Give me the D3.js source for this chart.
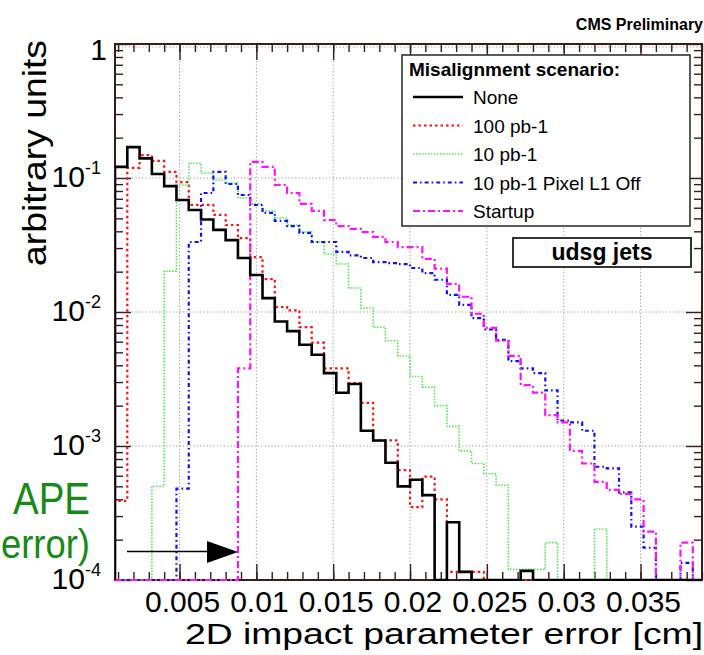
<!DOCTYPE html>
<html>
<head>
<meta charset="utf-8">
<script src="https://cdn.jsdelivr.net/npm/d3@7"></script>
<style>
  html, body { margin: 0; padding: 0; background: #fff; }
  svg { display: block; }
  text { font-family: "Liberation Sans", Arial, Helvetica, sans-serif; }
</style>
</head>
<body>
<script>
// Histogram binning of the 2D impact parameter error (cm)
const binWidth = 0.0008;
const firstBinLow = 0.0008;

// Normalised bin contents per misalignment scenario (0 = empty bin)
const noneVals = [0.121, 0.17, 0.14, 0.107, 0.087, 0.0686, 0.0577, 0.049, 0.041, 0.0344,
  0.0253, 0.0189, 0.0127, 0.0085, 0.0072, 0.0057, 0.0048, 0.0035, 0.0025, 0.0029,
  0.0013, 0.0011, 0.00075, 0.0005, 0.00056, 0.00043, 0, 0.00027, 0.000115, 0,
  0, 0, 0, 0.000117, 0, 0, 0, 0, 0, 0, 0, 0, 0, 0, 0, 0, 0, 0];
const pb100Vals = [0.00039, 0.119, 0.148, 0.134, 0.111, 0.093, 0.063, 0.063, 0.053, 0.0446,
  0.0356, 0.0257, 0.0176, 0.0109, 0.0103, 0.0077, 0.0059, 0.0038, 0.0038, 0.00295,
  0.0021, 0.0011, 0.0011, 0.00066, 0.00035, 0.00059, 0.0004, 0.000115, 0.000115, 0.000115,
  0, 0, 0, 0, 0, 0, 0, 0, 0, 0, 0, 0, 0, 0, 0, 0, 0, 0];
const pb10Vals = [0, 0, 0, 0.0005, 0.0202, 0.0887, 0.129, 0.109, 0.0966, 0.0918,
  0.071, 0.0641, 0.0569, 0.0503, 0.0445, 0.0395, 0.0333, 0.0271, 0.0228, 0.0151,
  0.0107, 0.0077, 0.0061, 0.0047, 0.0033, 0.00275, 0.002, 0.0014, 0.00092, 0.00074,
  0.00062, 0.00051, 0.00012, 0.00012, 0.00012, 0.00019, 0, 0, 0, 0.00024,
  0, 0, 0, 0, 0, 0, 0, 0];
const pb10PixVals = [0, 0, 0, 0, 0, 0.00048, 0.0333, 0.0773, 0.111, 0.0902,
  0.0747, 0.0629, 0.0549, 0.0478, 0.0438, 0.0389, 0.0333, 0.0333, 0.0281, 0.0265,
  0.0253, 0.0236, 0.0232, 0.0228, 0.0213, 0.0195, 0.0174, 0.0134, 0.0113, 0.009,
  0.0074, 0.0062, 0.0043, 0.0038, 0.0035, 0.0026, 0.00155, 0.0015, 0.0013, 0.0007,
  0.00068, 0.00045, 0.00025, 0.000174, 0, 0, 0.000134, 0];
const startupVals = [0, 0, 0, 0, 0, 0, 0, 0, 0, 0,
  0.0038, 0.132, 0.121, 0.0887, 0.0773, 0.0641, 0.0569, 0.0486, 0.0438, 0.0417,
  0.0395, 0.0363, 0.0333, 0.0305, 0.0305, 0.0249, 0.0211, 0.0162, 0.013, 0.0097,
  0.0076, 0.0061, 0.0047, 0.00285, 0.0025, 0.0017, 0.0015, 0.00092, 0.00074, 0.00054,
  0.00047, 0.00044, 0.0004, 0.00023, 0, 0, 0.00019, 0];

const seriesNames = ["None", "100 pb-1", "10 pb-1", "10 pb-1 Pixel L1 Off", "Startup"];
const seriesValues = [noneVals, pb100Vals, pb10Vals, pb10PixVals, startupVals];

// Axis ticks and labels
const xMajorTicks = [0.005, 0.01, 0.015, 0.02, 0.025, 0.03, 0.035];
const xTickLabels = ["0.005", "0.01", "0.015", "0.02", "0.025", "0.03", "0.035"];
const yDecades = [1, 0.1, 0.01, 0.001, 0.0001];
const yTickExponents = ["", "-1", "-2", "-3", "-4"];

// Line styles per scenario
const styles = [
  { color: "#000000", width: 2.6, dash: null },
  { color: "#ff1010", width: 2.2, dash: "2.5,3" },
  { color: "#4fe84f", width: 1.6, dash: "1.5,1.5" },
  { color: "#1010ff", width: 2.2, dash: "4,3,1.6,3" },
  { color: "#ff10ff", width: 2.2, dash: "7,3,2,3" }
];

const W = 704, H = 655;
const pL = 115, pR = 702, pT = 44, pB = 580;

const svg = d3.select("body").append("svg").attr("width", W).attr("height", H);
svg.append("rect").attr("width", W).attr("height", H).attr("fill", "#fff");

const x = d3.scaleLinear().domain([firstBinLow, 0.039]).range([pL, pR]);
const y = d3.scaleLog().domain([1e-4, 1]).range([pB, pT]);
const yVal = v => (v > 1e-4 ? y(v) : y(1e-4));

// Grid
const grid = svg.append("g").attr("stroke", "#9a9a9a").attr("stroke-width", 1)
  .attr("stroke-dasharray", "1.2,2.2");
xMajorTicks.forEach(v => grid.append("line")
  .attr("x1", x(v)).attr("x2", x(v)).attr("y1", pT).attr("y2", pB));
yDecades.slice(1, 4).forEach(v => grid.append("line")
  .attr("x1", pL).attr("x2", pR).attr("y1", y(v)).attr("y2", y(v)));
grid.append("line").attr("x1", pL).attr("x2", pR).attr("y1", pT + 3).attr("y2", pT + 3);

// Frame
svg.append("rect").attr("x", pL).attr("y", pT)
  .attr("width", pR - pL).attr("height", pB - pT)
  .attr("fill", "none").attr("stroke", "#3a1c1c").attr("stroke-width", 2);

// Ticks
const xMinor = d3.range(1, 40).map(i => i * 0.001).filter(v => v >= firstBinLow && v <= 0.039);
const yMinor = [];
[1e-4, 1e-3, 1e-2, 1e-1].forEach(d => { for (let m = 2; m <= 9; m++) yMinor.push(d * m); });

function tickAxis(axis, tr, len, vals) {
  const g = svg.append("g").attr("transform", tr)
    .call(axis.tickValues(vals).tickSize(-len).tickFormat(""));
  g.select(".domain").remove();
  g.selectAll("line").attr("stroke", "#3a1c1c").attr("stroke-width", 1.4);
}
tickAxis(d3.axisBottom(x), `translate(0,${pB})`, 16, xMajorTicks);
tickAxis(d3.axisBottom(x), `translate(0,${pB})`, 8, xMinor);
tickAxis(d3.axisTop(x), `translate(0,${pT})`, 16, xMajorTicks);
tickAxis(d3.axisTop(x), `translate(0,${pT})`, 8, xMinor);
tickAxis(d3.axisLeft(y), `translate(${pL},0)`, 16, yDecades);
tickAxis(d3.axisLeft(y), `translate(${pL},0)`, 8, yMinor);
tickAxis(d3.axisRight(y), `translate(${pR},0)`, 16, yDecades);
tickAxis(d3.axisRight(y), `translate(${pR},0)`, 8, yMinor);

// Histograms
svg.append("clipPath").attr("id", "plotclip").append("rect")
  .attr("x", pL).attr("y", pT - 1).attr("width", pR - pL).attr("height", pB - pT + 2);

const line = d3.line().x(d => d[0]).y(d => d[1]);
const histG = svg.append("g").attr("clip-path", "url(#plotclip)");
seriesValues.forEach((vals, si) => {
  const pts = [[x(firstBinLow), y(1e-4)]];
  vals.forEach((v, i) => {
    const lo = firstBinLow + i * binWidth, hi = lo + binWidth;
    pts.push([x(lo), yVal(v)], [x(hi), yVal(v)]);
  });
  pts.push([pts[pts.length - 1][0], y(1e-4)]);
  const st = styles[si];
  histG.append("path").attr("d", line(pts)).attr("fill", "none")
    .attr("stroke", st.color).attr("stroke-width", st.width)
    .attr("stroke-dasharray", st.dash).attr("stroke-linejoin", "miter");
});

// Redraw the black series last so it sits on top
histG.node().appendChild(histG.select("path").node());

// X tick labels
xMajorTicks.forEach((v, i) => svg.append("text")
  .attr("x", x(v) + 3).attr("y", 612).attr("text-anchor", "middle")
  .attr("font-size", 30).text(xTickLabels[i]));

// Y tick labels
yDecades.forEach((v, i) => {
  if (yTickExponents[i] === "") {
    svg.append("text").attr("x", 107).attr("y", y(v) + 16)
      .attr("text-anchor", "end").attr("font-size", 30).text("1");
  } else {
    const t = svg.append("text").attr("x", 101).attr("y", y(v) + 9)
      .attr("text-anchor", "end").attr("font-size", 30);
    t.append("tspan").text("10");
    t.append("tspan").attr("dy", -13).attr("font-size", 18).text(yTickExponents[i]);
  }
});

// Axis titles
svg.append("text").attr("x", 703).attr("y", 644).attr("text-anchor", "end")
  .attr("font-size", 29).attr("textLength", 518).attr("lengthAdjust", "spacingAndGlyphs")
  .text("2D impact parameter error [cm]");
svg.append("text").attr("transform", "translate(46,40) rotate(-90)")
  .attr("text-anchor", "end").attr("font-size", 33)
  .attr("textLength", 226).attr("lengthAdjust", "spacingAndGlyphs")
  .text("arbitrary units");

svg.append("text").attr("x", 703).attr("y", 30).attr("text-anchor", "end")
  .attr("font-size", 16).attr("font-weight", "bold").text("CMS Preliminary");

// Legend
const lg = svg.append("g");
lg.append("rect").attr("x", 402).attr("y", 55).attr("width", 288).attr("height", 171)
  .attr("fill", "#fff").attr("stroke", "#333").attr("stroke-width", 1.6);
lg.append("text").attr("x", 409).attr("y", 76).attr("font-size", 19)
  .attr("font-weight", "bold").text("Misalignment scenario:");
seriesNames.forEach((name, i) => {
  const yy = 97 + i * 28.5;
  const st = styles[i];
  lg.append("line").attr("x1", 413).attr("x2", 463).attr("y1", yy).attr("y2", yy)
    .attr("stroke", st.color).attr("stroke-width", st.width).attr("stroke-dasharray", st.dash);
  lg.append("text").attr("x", 473).attr("y", yy + 7).attr("font-size", 19).text(name);
});

// Jet flavour box
svg.append("rect").attr("x", 513).attr("y", 238).attr("width", 178).attr("height", 29)
  .attr("fill", "#fff").attr("stroke", "#333").attr("stroke-width", 2);
svg.append("text").attr("x", 602).attr("y", 260).attr("text-anchor", "middle")
  .attr("font-size", 23).attr("font-weight", "bold").text("udsg jets");

// Annotation: APE arrow
svg.append("line").attr("x1", 127).attr("x2", 208).attr("y1", 551.5).attr("y2", 551.5)
  .attr("stroke", "#000").attr("stroke-width", 1.5);
svg.append("path").attr("d", "M207,541 L238,552 L207,563 Z").attr("fill", "#000");

const annot = svg.append("g").attr("fill", "#168a16")
  .style("font-family", "'DejaVu Sans', sans-serif");
annot.append("text").attr("x", 13).attr("y", 514)
  .attr("font-size", 45).attr("textLength", 77).attr("lengthAdjust", "spacingAndGlyphs")
  .text("APE");
annot.append("text").attr("x", 1).attr("y", 558)
  .attr("font-size", 40).attr("textLength", 89).attr("lengthAdjust", "spacingAndGlyphs")
  .text("error)");
</script>
</body>
</html>
